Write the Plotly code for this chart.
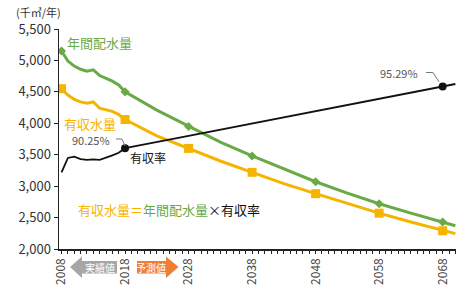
import plotly.graph_objects as go

# ---------------- data ----------------
years_hist = [2008, 2009, 2010, 2011, 2012, 2013, 2014, 2015, 2016, 2017, 2018]
haisui_hist = [5150, 4990, 4910, 4860, 4830, 4850, 4760, 4720, 4670, 4610, 4500]   # 年間配水量
yushu_hist = [4550, 4450, 4380, 4340, 4320, 4340, 4240, 4220, 4190, 4140, 4060]    # 有収水量
rate_hist = [88.27, 89.45, 89.55, 89.35, 89.30, 89.34, 89.30, 89.46, 89.66, 89.87, 90.25]  # 有収率 %

years_fc = [2023, 2028, 2033, 2038, 2043, 2048, 2053, 2058, 2063, 2068, 2070]
haisui_fc = [4210, 3950, 3700, 3480, 3270, 3070, 2890, 2720, 2570, 2430, 2370]
yushu_fc = [3800, 3600, 3400, 3220, 3040, 2880, 2720, 2570, 2430, 2290, 2245]

rate_years_fc = [2028, 2038, 2048, 2058, 2068, 2070]
rate_fc = [91.26, 92.27, 93.27, 94.28, 95.29, 95.50]

marker_years = [2008, 2018, 2028, 2038, 2048, 2058, 2068]
rate_marker_years = [2018, 2068]

x_ticks = [2008, 2018, 2028, 2038, 2048, 2058, 2068]
y_ticks = [2000, 2500, 3000, 3500, 4000, 4500, 5000, 5500]

# ---------------- styling ----------------
GREEN = "#6aaa46"
YELLOW = "#f5b400"
BLACK = "#111111"
GRAY_TXT = "#555555"
FONT = "Noto Sans CJK JP"

W, H = 456, 288
L, R, T, B = 59, 0, 29, 39
PW, PH = W - L - R, H - T - B


def px(x):
    return (x - L) / PW


def py(y):
    return (H - B - y) / PH


years = years_hist + years_fc
haisui = haisui_hist + haisui_fc
yushu = yushu_hist + yushu_fc
r_years = years_hist + rate_years_fc
rate = rate_hist + rate_fc

h_map = dict(zip(years, haisui))
y_map = dict(zip(years, yushu))
r_map = dict(zip(r_years, rate))

fig = go.Figure()

fig.add_trace(go.Scatter(x=years, y=haisui, mode="lines",
                         line=dict(color=GREEN, width=3), hoverinfo="skip"))
fig.add_trace(go.Scatter(x=marker_years, y=[h_map[y] for y in marker_years], mode="markers",
                         marker=dict(symbol="diamond", size=7, color=GREEN), hoverinfo="skip"))
fig.add_trace(go.Scatter(x=years, y=yushu, mode="lines",
                         line=dict(color=YELLOW, width=3), hoverinfo="skip"))
fig.add_trace(go.Scatter(x=marker_years, y=[y_map[y] for y in marker_years], mode="markers",
                         marker=dict(symbol="square", size=9, color=YELLOW), hoverinfo="skip"))
fig.add_trace(go.Scatter(x=r_years, y=rate, mode="lines", yaxis="y2",
                         line=dict(color=BLACK, width=1.8), hoverinfo="skip"))
fig.add_trace(go.Scatter(x=rate_marker_years, y=[r_map[y] for y in rate_marker_years],
                         mode="markers", yaxis="y2",
                         marker=dict(symbol="circle", size=8, color=BLACK), hoverinfo="skip"))

shapes = []
# arrows under x axis
gray_pts = [(70, 267), (82, 256.5), (82, 261), (117, 261), (117, 273.5), (82, 273.5), (82, 278)]
orange_pts = [(137, 261), (166, 261), (166, 256.5), (178.5, 267), (166, 278), (166, 273.5), (137, 273.5)]


def path(pts):
    return "M " + " L ".join(f"{px(a):.5f},{py(b):.5f}" for a, b in pts) + " Z"


shapes.append(dict(type="path", xref="paper", yref="paper", path=path(gray_pts),
                   fillcolor="#a6a6a6", line=dict(width=0)))
shapes.append(dict(type="path", xref="paper", yref="paper", path=path(orange_pts),
                   fillcolor="#ef7f35", line=dict(width=0)))


def poly(pts):
    return "M " + " L ".join(f"{px(a):.5f},{py(b):.5f}" for a, b in pts)


shapes.append(dict(type="path", xref="paper", yref="paper",
                   path=poly([(116, 139), (122, 139), (125, 146)]),
                   line=dict(color="#777777", width=1)))
shapes.append(dict(type="path", xref="paper", yref="paper",
                   path=poly([(426, 72.5), (433, 72.5), (439, 82)]),
                   line=dict(color="#777777", width=1)))

ann = []


def text(x, y, s, color, size, xanchor="left"):
    ann.append(dict(x=px(x), y=py(y), xref="paper", yref="paper", text=s, showarrow=False,
                    xanchor=xanchor, yanchor="middle",
                    font=dict(family=FONT, size=size, color=color)))


text(14, 12, "(千㎥/年)", "#333333", 11)
text(65, 42, "年間配水量", GREEN, 13)
text(62, 124, "有収水量", YELLOW, 13)
text(70, 140, "90.25%", GRAY_TXT, 11)
text(128, 157, "有収率", BLACK, 12)
text(378, 73, "95.29%", GRAY_TXT, 11)
text(100, 267, "実績値", "white", 10, "center")
text(151, 267, "予測値", "white", 10, "center")
text(76, 209,
     f"<span style='color:{YELLOW}'>有収水量＝</span>"
     f"<span style='color:{GREEN}'>年間配水量</span>"
     f"<span style='color:{BLACK}'>×有収率</span>", BLACK, 13)

fig.update_layout(
    width=W, height=H,
    margin=dict(l=L, r=R, t=T, b=B),
    paper_bgcolor="white", plot_bgcolor="white",
    showlegend=False,
    font=dict(family=FONT, color="#333333"),
    xaxis=dict(range=[2007.6, 2070.1], tickvals=x_ticks, tickangle=-90,
               ticks="outside", ticklen=3, tickcolor="#222", tickwidth=1,
               showline=True, linecolor="#222", linewidth=1.5,
               showgrid=False, zeroline=False,
               tickfont=dict(size=12, color="#444444"),
               minor=dict(dtick=1, tick0=2008, ticks="outside", ticklen=3,
                          tickcolor="#222", showgrid=False)),
    yaxis=dict(range=[2000, 5500], tickvals=y_ticks, tickformat=",",
               ticks="outside", ticklen=4, tickcolor="#222",
               showline=True, linecolor="#222", linewidth=1.5,
               showgrid=False, zeroline=False,
               tickfont=dict(size=13, color="#333333")),
    yaxis2=dict(range=[82, 100], overlaying="y", visible=False),
    shapes=shapes,
    annotations=ann,
)

fig.write_html("out.html",
               config={"displayModeBar": False, "staticPlot": True},
               post_script="document.body.style.margin='0';document.body.style.overflow='hidden';")
